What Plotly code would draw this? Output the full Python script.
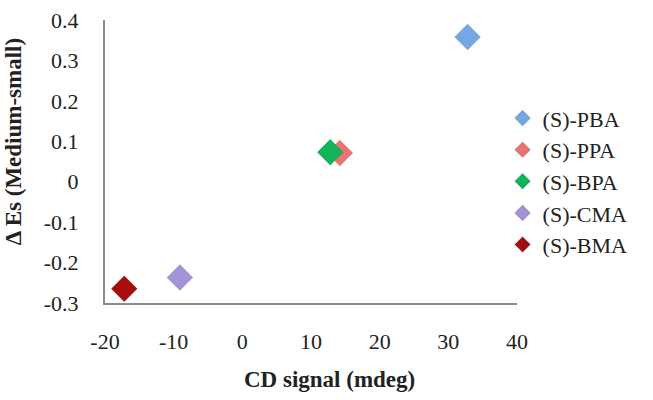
import plotly.graph_objects as go

# CD signal (mdeg) vs ΔEs (medium-small), one point per compound
names = ["(S)-PBA", "(S)-PPA", "(S)-BPA", "(S)-CMA", "(S)-BMA"]
cd_signal = [32.8, 14.2, 12.8, -9.1, -17.2]
delta_es = [0.358, 0.071, 0.073, -0.237, -0.265]
colors = ["#77A7E2", "#EA746F", "#12B35A", "#A493D6", "#A50E0E"]

x_ticks = [-20, -10, 0, 10, 20, 30, 40]
x_labels = ["-20", "-10", "0", "10", "20", "30", "40"]
y_ticks = [-0.3, -0.2, -0.1, 0, 0.1, 0.2, 0.3, 0.4]
y_labels = ["-0.3", "-0.2", "-0.1", "0", "0.1", "0.2", "0.3", "0.4"]

fig = go.Figure()
for n, x, y, c in zip(names, cd_signal, delta_es, colors):
    fig.add_trace(go.Scatter(
        x=[x], y=[y], name=n, mode="markers",
        marker=dict(symbol="diamond", size=20, color=c,
                    line=dict(width=1, color="rgba(0,0,0,0.08)")),
    ))

serif = "Liberation Serif, Times New Roman, serif"

fig.update_layout(
    width=653, height=400,
    margin=dict(l=105, r=136, t=20, b=97),
    plot_bgcolor="white", paper_bgcolor="white",
    font=dict(family=serif, size=22, color="#222222"),
    showlegend=True,
    legend=dict(x=0.965, y=0.43, xanchor="left", yanchor="middle",
                font=dict(size=22), itemsizing="constant", itemwidth=30,
                tracegroupgap=0, bgcolor="rgba(0,0,0,0)"),
    xaxis=dict(range=[-20, 40], tickvals=x_ticks, ticktext=x_labels,
               showgrid=False, zeroline=False, automargin=False,
               showline=True, linecolor="#8A8A8A", linewidth=2,
               ticks="outside", ticklen=18, tickcolor="rgba(0,0,0,0)"),
    yaxis=dict(range=[-0.3, 0.4], tickvals=y_ticks, ticktext=y_labels,
               showgrid=False, zeroline=False, automargin=False,
               showline=True, linecolor="#8A8A8A", linewidth=2,
               ticks="outside", ticklen=20, tickcolor="rgba(0,0,0,0)"),
    annotations=[
        dict(text="<b>CD signal (mdeg)</b>", x=0.545, y=-0.27, xref="paper", yref="paper",
             xanchor="center", yanchor="middle", showarrow=False, font=dict(size=23)),
        dict(text="<b>Δ Es (Medium-small)</b>", x=-0.222, y=0.57, xref="paper", yref="paper",
             xanchor="center", yanchor="middle", textangle=-90, showarrow=False,
             font=dict(size=23)),
    ],
)

fig.write_html("out.html", config={"displayModeBar": False},
               post_script="document.body.style.margin='0px';")
